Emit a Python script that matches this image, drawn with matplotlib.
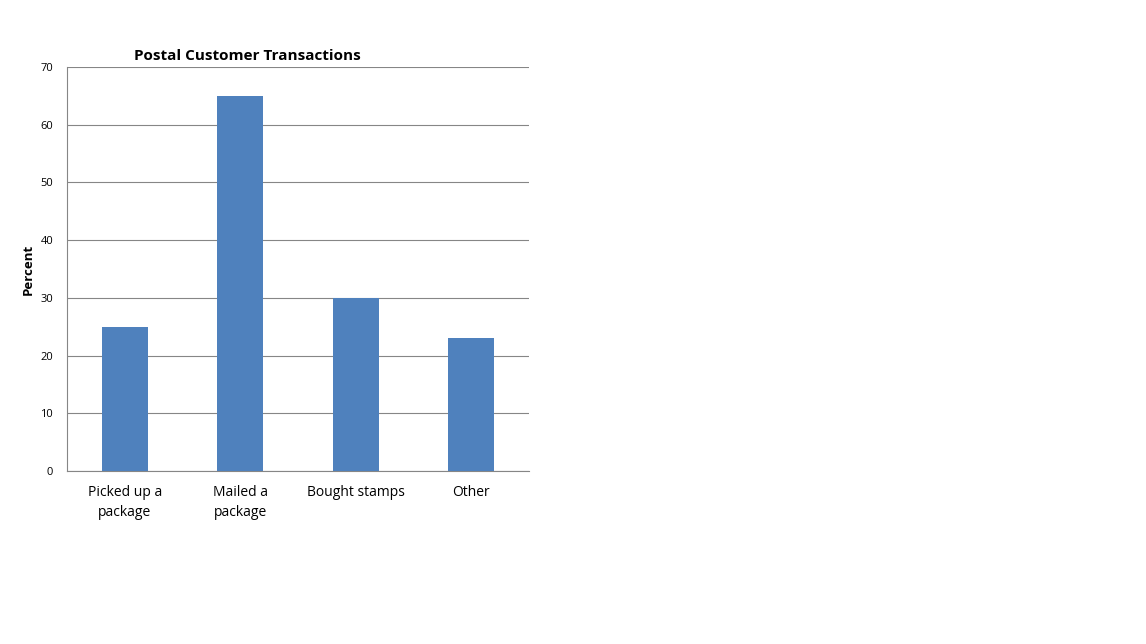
import matplotlib
matplotlib.use("Agg")
import matplotlib.pyplot as plt

categories = ["Picked up a\npackage", "Mailed a\npackage", "Bought stamps", "Other"]
values = [25, 65, 30, 23]
yticks = [0, 10, 20, 30, 40, 50, 60, 70]

plt.rcParams['font.family'] = ['Open Sans', 'DejaVu Sans']

fig = plt.figure(figsize=(11.46, 6.44), dpi=100)
ax = fig.add_axes([67/1146, 1-471/644, 462/1146, 404/644])

x = range(len(categories))
ax.bar(x, values, width=0.4, color="#4F81BD", zorder=3)
ax.set_xlim(-0.5, len(categories) - 0.5)
ax.set_ylim(0, 70)
ax.set_yticks(yticks)
ax.set_xticks(list(x))
ax.set_xticklabels(categories, fontsize=10, linespacing=1.45)
ax.tick_params(axis='y', labelsize=8, length=0, pad=10)
ax.tick_params(axis='x', length=0, pad=10)
ax.grid(axis='y', color="#868686", linewidth=0.8, zorder=0)
for s in ["top", "right"]:
    ax.spines[s].set_visible(False)
for s in ["left", "bottom"]:
    ax.spines[s].set_color("#868686")
    ax.spines[s].set_linewidth(0.8)
ax.set_ylabel("Percent", fontsize=9.5, fontweight="bold")
ax.yaxis.set_label_coords(-0.069, 0.5)
ax.set_title("Postal Customer Transactions", fontsize=11, fontweight="bold", pad=5, x=0.39)

fig.savefig("out.png", dpi=100)
